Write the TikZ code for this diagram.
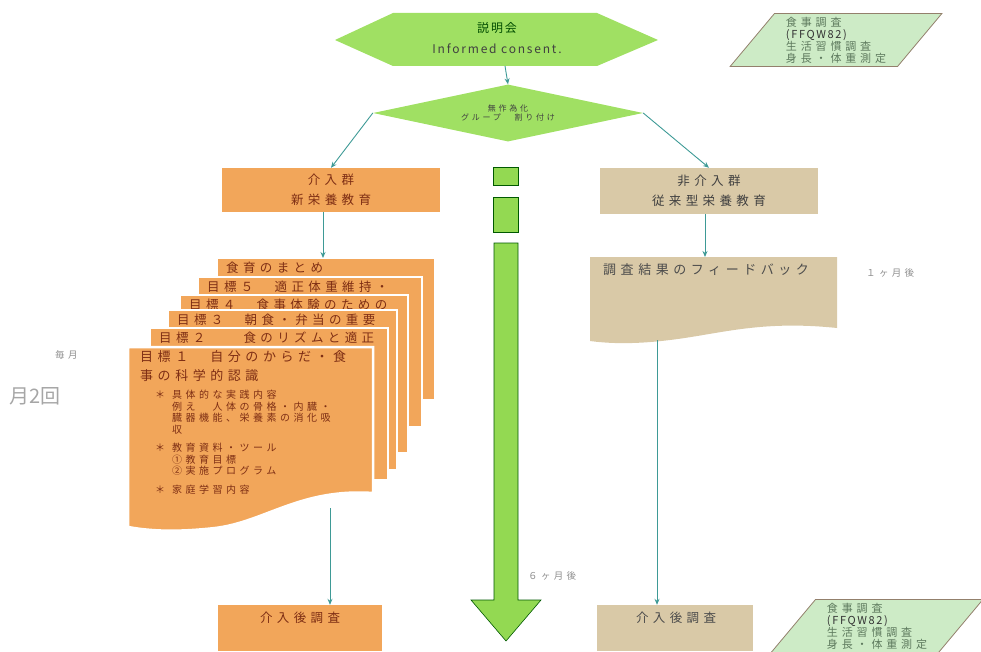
\documentclass[tikz,border=0pt]{standalone}
\usepackage{fontspec}
\setmainfont{Noto Sans CJK JP}
\newfontfamily\jpwide[LetterSpace=35]{Noto Sans CJK JP}
\newfontfamily\jpnarrow[LetterSpace=15]{Noto Sans CJK JP}
\usetikzlibrary{arrows.meta,shapes.geometric}
\definecolor{kgreen}{HTML}{A0E063}
\definecolor{pgreen}{HTML}{CDEBC6}
\definecolor{korange}{HTML}{F2A65A}
\definecolor{ktan}{HTML}{D9C9A7}
\definecolor{kteal}{HTML}{3E9A96}
\definecolor{kbrown}{HTML}{7E2E14}
\definecolor{kgray}{HTML}{8E8E8E}
\definecolor{barrow}{HTML}{93D952}
\definecolor{ptext}{HTML}{5E7A5E}

\begin{document}
\begin{tikzpicture}[x=1pt,y=-1pt,
  conn/.style={draw=kteal,line width=0.9pt,-{Stealth[length=6pt,width=5pt]}},
  obox/.style={rectangle,fill=korange,inner sep=0pt},
  tbox/.style={rectangle,fill=ktan,inner sep=0pt},
  para/.style={trapezium,trapezium left angle=52,trapezium right angle=128,
    trapezium stretches,fill=pgreen,draw=gray!70!brown,line width=0.8pt,
    minimum width=212pt,minimum height=53pt,inner sep=0pt,align=left,
    text=ptext,font=\jpwide\fontsize{11}{12}\selectfont},
  page/.style={fill=korange,draw=white,line width=2.5pt},
  pagetext/.style={anchor=west,inner sep=0pt,text=kbrown,
    font=\jpwide\fontsize{12.5}{19}\selectfont},
  bigarrow/.style={fill=barrow,draw=green!35!black,line width=0.6pt},
  note/.style={anchor=west,inner sep=0pt,text=kgray}]
\useasboundingbox (0,0) rectangle (981,652);

% top: explanation meeting
\fill[kgreen] (335,40) -- (393,13) -- (597,13) -- (658,40) -- (597,66) -- (393,66) -- cycle;
\node[align=center,text=black!75,font=\jpnarrow\fontsize{12}{21}\selectfont] (setsumei) at (497,38) {{\color{green!30!black}説明会}\\Informed consent.};
\coordinate (setsumeiS) at (505,66);
\node[para] (chosa1) at (836,40) {食事調査\\{\jpnarrow\color{black!80}(FFQW82)}\\生活習慣調査\\身長・体重測定};

% randomisation
\node[diamond,aspect=4.7,fill=kgreen,minimum width=270pt,minimum height=57pt,inner sep=0pt,
  align=center,text=black!75,font=\jpwide\fontsize{8}{9}\selectfont] (sakui) at (508,113) {無作為化\\グループ　割り付け};

% two groups
\node[obox,minimum width=218pt,minimum height=44pt,align=center,text=kbrown,
  font=\jpwide\fontsize{12.5}{20}\selectfont] (kainyu) at (331,190) {介入群\\新栄養教育};
\node[tbox,minimum width=218pt,minimum height=46pt,align=center,text=black!75,
  font=\jpwide\fontsize{12.5}{20}\selectfont] (hikainyu) at (709,191) {非介入群\\従来型栄養教育};

% time arrow in the middle
\filldraw[bigarrow] (493,167) rectangle (518,185);
\filldraw[bigarrow] (493,197) rectangle (518,232);
\filldraw[bigarrow] (494,243) -- (518,243) -- (518,600) -- (541,600) -- (506,641) -- (471,600) -- (494,600) -- cycle;
\node[note,font=\jpwide\fontsize{9.5}{10}\selectfont] (rokka) at (528,576) {６ヶ月後};

% stack of lesson sheets
\foreach \l/\t/\r/\b/\txt in {217/258/435/400/食育のまとめ,
    198/277/422/427/目標５　適正体重維持・,
    180/295/408/453/目標４　食事体験のための,
    168/310/397/470/目標３　朝食・弁当の重要,
    150/328/388/480/目標２　　食のリズムと適正}
{
  \filldraw[page] (\l,\t) rectangle (\r,\b);
  \node[pagetext] (goal\l) at (\l+9,\t+10) {\txt};
}
\filldraw[page] (128,347) -- (373,347) -- (373,493) .. controls (300,488) and (265,522) .. (215,528)
  .. controls (170,533) and (145,530) .. (128,527) -- cycle;
\node[anchor=north west,inner sep=0pt,align=left,text=kbrown,
  font=\jpwide\fontsize{13}{19}\selectfont] (goal1) at (140,350) {目標１　自分のからだ・食\\事の科学的認識};
\node[anchor=north west,inner sep=0pt,align=left,text=kbrown,
  font=\jpwide\fontsize{10}{11.5}\selectfont] (goal1sub) at (155,390)
  {\makebox[17pt][l]{＊}具体的な実践内容\\
   \hspace*{17pt}例え　人体の骨格・内臓・\\
   \hspace*{17pt}臓器機能、栄養素の消化吸\\
   \hspace*{17pt}収\\[7pt]
   \makebox[17pt][l]{＊}教育資料・ツール\\
   \hspace*{17pt}①教育目標\\
   \hspace*{17pt}②実施プログラム\\[7pt]
   \makebox[17pt][l]{＊}家庭学習内容};
\coordinate (docT) at (323,258);
\coordinate (docB) at (330,508);
\node[note,font=\jpwide\fontsize{9.5}{10}\selectfont] (maitsuki) at (55,355) {毎月};
\node[note,text=gray!70,font=\fontsize{20}{22}\selectfont] (tsuki2) at (9,396) {月2回};

% control side
\fill[ktan] (590,257) -- (837,257) -- (837,328) .. controls (760,320) and (720,334) .. (670,340)
  .. controls (630,345) and (605,343) .. (590,341) -- cycle;
\node[anchor=west,inner sep=0pt,text=black!70,font=\jpwide\fontsize{13}{15}\selectfont] (feedback) at (603,270) {調査結果のフィードバック};
\coordinate (fbT) at (705,257);
\coordinate (fbB) at (657,340);
\node[note,font=\jpwide\fontsize{9.5}{10}\selectfont] (ikka) at (866,273) {１ヶ月後};

% after intervention
\node[obox,minimum width=164pt,minimum height=46pt] (kgoL) at (300,628) {};
\node[inner sep=0pt,text=kbrown,font=\jpwide\fontsize{12.5}{14}\selectfont] (kgoLt) at (300,618) {介入後調査};
\node[tbox,minimum width=156pt,minimum height=46pt] (kgoR) at (675,628) {};
\node[inner sep=0pt,text=black!70,font=\jpwide\fontsize{12.5}{14}\selectfont] (kgoRt) at (676,618) {介入後調査};
\node[para] (chosa2) at (877,626) {食事調査\\{\jpnarrow\color{black!80}(FFQW82)}\\生活習慣調査\\身長・体重測定};

% connectors
\draw[conn] (setsumeiS) -- (sakui.north);
\draw[conn] (sakui.west) -- (kainyu.north);
\draw[conn] (sakui.east) -- (hikainyu.north);
\draw[conn] (kainyu.south -| docT) -- (docT);
\draw[conn] (hikainyu.south -| fbT) -- (fbT);
\draw[conn] (docB) -- (docB |- kgoL.north);
\draw[conn] (fbB) -- (fbB |- kgoR.north);
\end{tikzpicture}
\end{document}
